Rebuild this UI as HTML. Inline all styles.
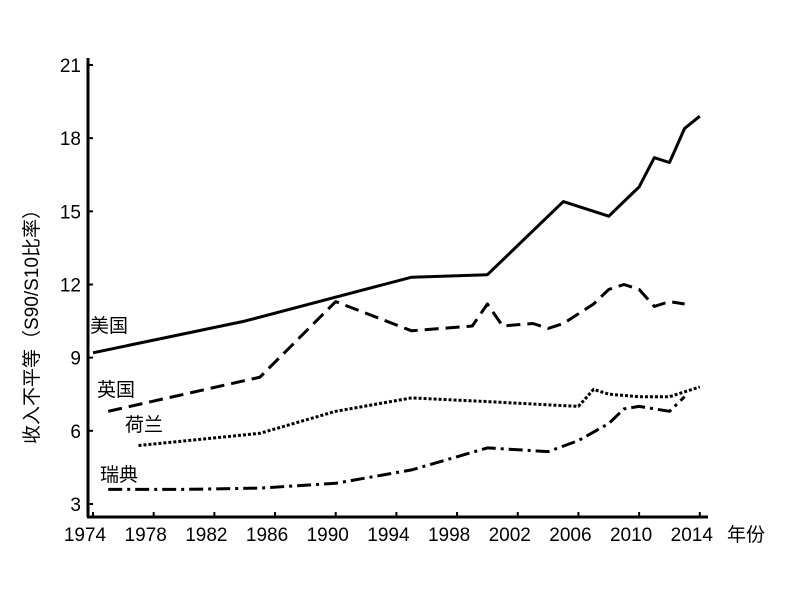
<!DOCTYPE html>
<html><head><meta charset="utf-8">
<style>
html,body{margin:0;padding:0;background:#fff;}
svg text{font-family:"Liberation Sans","Noto Sans CJK SC",sans-serif;fill:#000;}
</style></head>
<body>
<svg id="chart" width="800" height="597" viewBox="0 0 800 597" xmlns="http://www.w3.org/2000/svg">
<g id="axes"></g>
<g id="series"></g>
<text transform="translate(38,322) rotate(-90)" text-anchor="middle" font-size="19">收入不平等（S90/S10比率）</text>
<text x="727" y="541" font-size="19">年份</text>
<text x="90" y="332" font-size="19">美国</text>
<text x="97" y="396" font-size="19">英国</text>
<text x="125" y="431" font-size="19">荷兰</text>
<text x="100" y="481" font-size="19">瑞典</text>
</svg>
<script>
const xTicks=[1974,1978,1982,1986,1990,1994,1998,2002,2006,2010,2014];
const yTicks=[3,6,9,12,15,18,21];
const usYears=[1974,1984,1995,2000,2005,2008,2010,2011,2012,2013,2014];
const usVals=[9.2,10.5,12.3,12.4,15.4,14.8,16.0,17.2,17.0,18.4,18.9];
const ukYears=[1975,1985,1990,1995,1999,2000,2001,2003,2004,2005,2007,2008,2009,2010,2011,2012,2013];
const ukVals=[6.8,8.2,11.3,10.1,10.3,11.2,10.3,10.4,10.2,10.4,11.2,11.8,12.0,11.8,11.1,11.3,11.2];
const nlYears=[1977,1985,1990,1995,2000,2006,2007,2008,2010,2012,2014];
const nlVals=[5.4,5.9,6.8,7.35,7.2,7.0,7.7,7.5,7.4,7.4,7.8];
const seYears=[1975,1980,1985,1990,1995,2000,2004,2006,2008,2009,2010,2012,2013];
const seVals=[3.6,3.6,3.65,3.85,4.4,5.3,5.15,5.6,6.3,6.9,7.0,6.8,7.4];

const NS="http://www.w3.org/2000/svg";
function xS(yr){return 93+(yr-1974)*15.17;}
function yS(v){return 504-(v-3)*24.39;}
function mk(tag,attrs,parent){const e=document.createElementNS(NS,tag);for(const k in attrs)e.setAttribute(k,attrs[k]);parent.appendChild(e);return e;}
const axes=document.getElementById('axes');
const ya=mk('line',{x1:88,y1:58,x2:88,y2:517,stroke:'#000','stroke-width':3},axes);


const xa=mk('line',{x1:87,y1:517,x2:708,y2:517,stroke:'#000','stroke-width':3},axes);


yTicks.forEach(v=>{
  const t=mk('line',{x1:88,y1:yS(v),x2:93,y2:yS(v),stroke:'#000','stroke-width':2},axes);
  
  
  const l=mk('text',{x:81,y:yS(v)+7,'text-anchor':'end','font-size':19},axes);
  l.textContent=v;
  
  
});
xTicks.forEach(yr=>{
  const t=mk('line',{x1:xS(yr),y1:512,x2:xS(yr),y2:517,stroke:'#000','stroke-width':2},axes);
  
  
  const l=mk('text',{x:xS(yr)-8,y:541,'text-anchor':'middle','font-size':19},axes);
  l.textContent=yr;
  
  
});
const series=document.getElementById('series');
function draw(years,vals,dash,name,w){
  const d=years.map((yr,i)=>(i?'L':'M')+xS(yr).toFixed(1)+','+yS(vals[i]).toFixed(1)).join(' ');
  const p=mk('path',{d:d,fill:'none',stroke:'#000','stroke-width':w,'stroke-dasharray':dash,'stroke-linejoin':'round'},series);
  
  
}
draw(usYears,usVals,'none','line-usa',3);
draw(ukYears,ukVals,'14,7','line-uk',3);
draw(nlYears,nlVals,'3,2','line-netherlands',3);
draw(seYears,seVals,'14,5,3,5','line-sweden',3);
</script>
</body></html>
